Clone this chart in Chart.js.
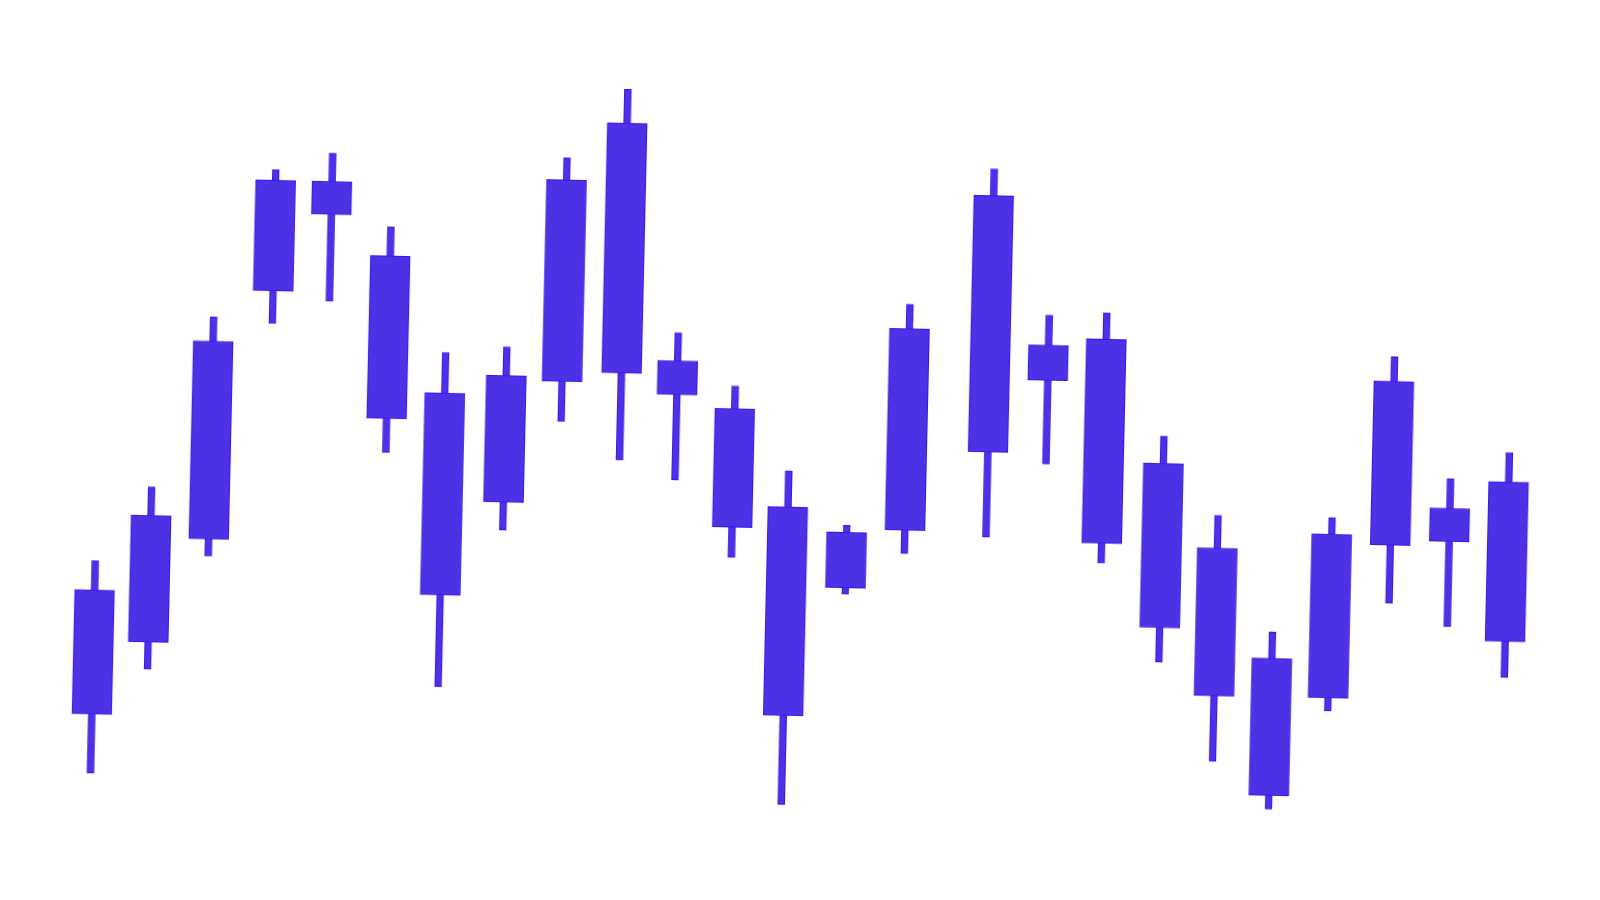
<!DOCTYPE html>
<html>
<head>
<meta charset="utf-8">
<title>Candlestick</title>
<script src="https://cdn.jsdelivr.net/npm/chart.js@4.4.1/dist/chart.umd.min.js"></script>
<style>
    html, body { margin: 0; padding: 0; background: #ffffff; overflow: hidden; }
    #wrap { width: 1600px; height: 900px; }
    /* the whole picture is turned slightly clockwise */
    #myChart { display: block; transform: rotate(1.3deg); transform-origin: 800px 450px; }
</style>
</head>
<body>
<div id="wrap"><canvas id="myChart" width="1600" height="900"></canvas></div>
<script>
// day index of each candle (there is a small gap after day 14)
var days = [0, 0.95, 1.96, 2.98, 3.96, 5, 6, 7.06, 8.03, 9.06, 10.03, 11.04, 12, 13.03, 14.04,
    15.45, 16.46, 17.46, 18.5, 19.47, 20.46, 21.45, 22.47, 23.49, 24.5];

var openPrices = [16.99, 24.34, 34.77, 59.71, 70.79, 63.46, 49.89, 39.12, 51.3, 77.3, 53.65, 48.99, 39.29,
    31.34, 37.2, 45.23, 56.03, 56.77, 44.48, 36.15, 25.23, 21.4, 36.83, 40.65, 27.46];
var closePrices = [29.41, 37.0, 54.55, 70.8, 67.48, 47.22, 29.68, 51.77, 71.46, 52.28, 50.27, 37.14, 18.42,
    36.87, 57.36, 70.86, 52.53, 36.37, 28.05, 21.37, 11.54, 37.78, 53.22, 37.34, 43.42];
var highPrices = [32.34, 39.83, 56.96, 71.84, 73.62, 66.39, 53.95, 54.65, 73.68, 80.66, 56.44, 51.25, 42.88,
    37.58, 59.81, 73.55, 59.05, 59.41, 47.22, 39.41, 27.87, 39.43, 55.67, 43.62, 46.35];
var lowPrices = [11.09, 21.61, 33.07, 56.45, 58.84, 43.82, 20.52, 36.33, 47.33, 43.59, 41.73, 34.12, 9.5,
    30.68, 34.88, 36.73, 44.17, 34.39, 24.6, 14.81, 10.15, 20.12, 31.03, 28.8, 23.87];

var fillColor = '#4b32e4';
var edgeColor = '#3a12ee';

var bodies = days.map(function (d, i) {
    return { x: d, y: [openPrices[i], closePrices[i]] };
});
var wicks = days.map(function (d, i) {
    return { x: d, y: [lowPrices[i], highPrices[i]] };
});

var ctx = document.getElementById('myChart').getContext('2d');
var myChart = new Chart(ctx, {
    type: 'bar',
    data: {
        datasets: [{
            // first dataset is painted on top
            label: 'body',
            data: bodies,
            grouped: false,
            barThickness: 40,
            backgroundColor: fillColor,
            borderColor: edgeColor,
            borderWidth: 1,
            borderSkipped: false
        }, {
            label: 'wick',
            data: wicks,
            grouped: false,
            barThickness: 7,
            backgroundColor: fillColor,
            borderColor: edgeColor,
            borderWidth: 1,
            borderSkipped: false
        }]
    },
    options: {
        responsive: false,
        animation: false,
        layout: { padding: 0 },
        scales: {
            x: { type: 'linear', min: -1.701, max: 26.076, offset: false, display: false },
            y: { min: 0, max: 90, display: false }
        },
        plugins: {
            legend: { display: false },
            tooltip: { enabled: false }
        }
    }
});
</script>
</body>
</html>
